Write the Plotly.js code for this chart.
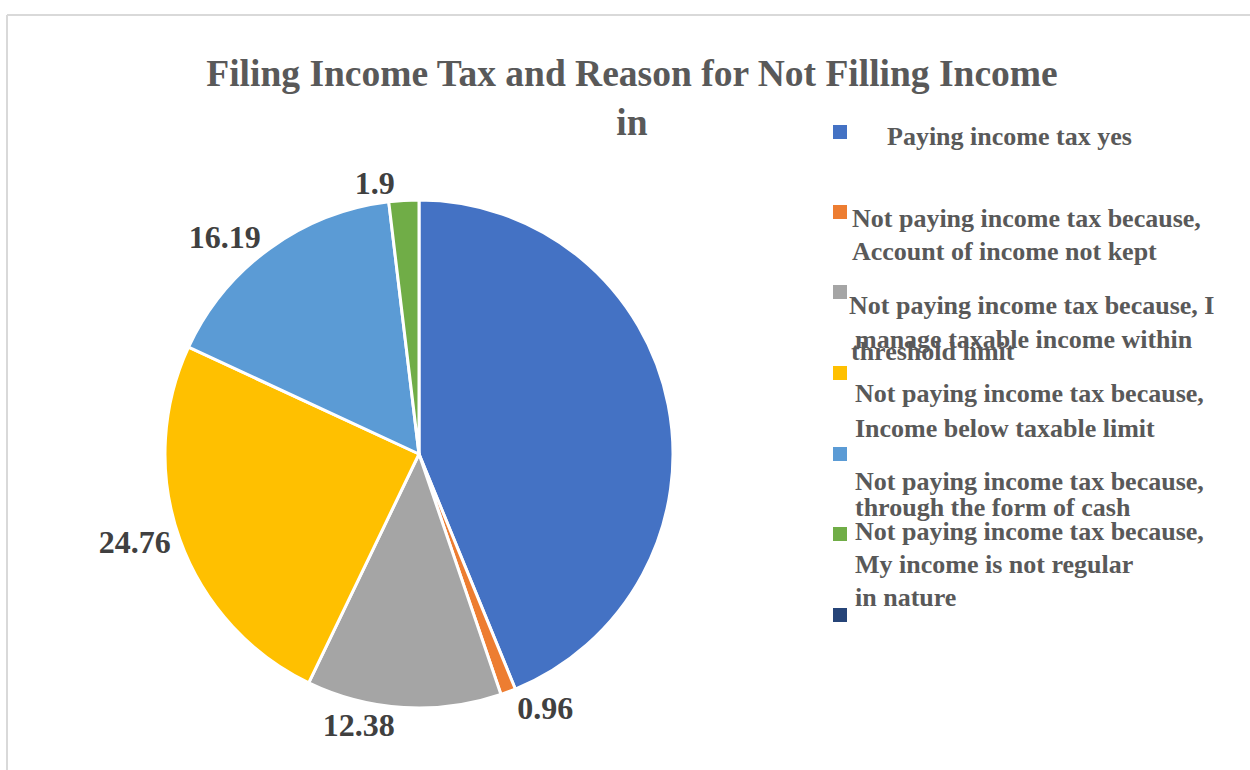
<!DOCTYPE html>
<html>
<head>
<meta charset="utf-8">
<script src="https://cdn.plot.ly/plotly-3.0.1.min.js"></script>
<style>html,body{margin:0;padding:0;background:#fff;}#chart{width:1250px;height:770px;}</style>
</head>
<body>
<div id="chart"></div>
<script>
// ---- data ----
const categories = [
  "Paying income tax yes",
  "Not paying income tax because, Account of income not kept",
  "Not paying income tax because, I manage taxable income within threshold limit",
  "Not paying income tax because, Income below taxable limit",
  "Not paying income tax because, through the form of cash",
  "Not paying income tax because, My income is not regular in nature",
  ""
];
const legendLines = [
  ["Paying income tax yes"],
  ["Not paying income tax because,", "Account of income not kept"],
  ["Not paying income tax because, I", "manage taxable income within", "threshold limit"],
  ["Not paying income tax because,", "Income below taxable limit"],
  ["Not paying income tax because,", "through the form of cash"],
  ["Not paying income tax because,", "My income is not regular", "in nature"],
  []
];
const values = [43.81, 0.96, 12.38, 24.76, 16.19, 1.9];
const showValueLabel = [false, true, true, true, true, true];
const colors = ["#4472C4", "#ED7D31", "#A5A5A5", "#FFC000", "#5B9BD5", "#70AD47", "#264478"];
const titleText = "Filing Income Tax and Reason for Not Filling Income<br>in";

// ---- layout helpers (positions in px) ----
const W = 1250, H = 770;
const px = (x) => x / W;
const py = (y) => 1 - y / H;
const cx = 419, cy = 454, r = 254;

const legendSquareTop = [125, 205, 285, 366, 447, 527, 608];
const legendSquareX = 833, sq = 14;
const legendTextPos = [
  [[885, 136]],
  [[850, 218], [850, 251]],
  [[847, 305], [853, 340], [849, 351]],
  [[853, 394], [853, 428]],
  [[853, 481], [853, 507]],
  [[853, 531], [853, 564], [853, 597]],
  []
];

const shapes = [
  {type: 'line', xref: 'paper', yref: 'paper', x0: px(7), x1: 1, y0: py(15), y1: py(15), line: {color: '#d9d9d9', width: 2}},
  {type: 'line', xref: 'paper', yref: 'paper', x0: px(7), x1: px(7), y0: py(15), y1: 0, line: {color: '#d9d9d9', width: 2}}
];
const annotations = [];
legendSquareTop.forEach((top, i) => {
  shapes.push({type: 'rect', xref: 'paper', yref: 'paper',
    x0: px(legendSquareX), x1: px(legendSquareX + sq), y0: py(top + sq), y1: py(top),
    fillcolor: colors[i], line: {width: 0}});
  legendLines[i].forEach((line, j) => {
    const p = legendTextPos[i][j];
    annotations.push({xref: 'paper', yref: 'paper', x: px(p[0]), y: py(p[1]),
      xanchor: 'left', yanchor: 'middle', showarrow: false, text: line,
      font: {family: 'Liberation Serif', size: 26, color: '#595959', weight: 'bold'}});
  });
});

const trace = {
  type: 'pie',
  labels: categories.slice(0, values.length),
  values: values,
  sort: false,
  direction: 'clockwise',
  rotation: 0,
  marker: {colors: colors.slice(0, values.length), line: {color: '#ffffff', width: 3}},
  textposition: 'outside',
  texttemplate: values.map((v, i) => showValueLabel[i] ? '%{value}' : ''),
  outsidetextfont: {family: 'Liberation Serif', size: 32, color: '#404040', weight: 'bold'},
  automargin: false,
  hoverinfo: 'none',
  showlegend: false,
  domain: {x: [px(cx - r), px(cx + r)], y: [py(cy + r), py(cy - r)]}
};

const layout = {
  width: W, height: H,
  margin: {l: 0, r: 0, t: 0, b: 0},
  paper_bgcolor: '#ffffff',
  showlegend: false,
  title: {text: titleText, x: px(632), xanchor: 'center', xref: 'paper',
    y: py(86), yanchor: 'top', yref: 'paper',
    font: {family: 'Liberation Serif', size: 37.5, color: '#595959', weight: 'bold'}},
  shapes: shapes,
  annotations: annotations
};

Plotly.newPlot('chart', [trace], layout, {displayModeBar: false, staticPlot: true});
</script>
</body>
</html>
